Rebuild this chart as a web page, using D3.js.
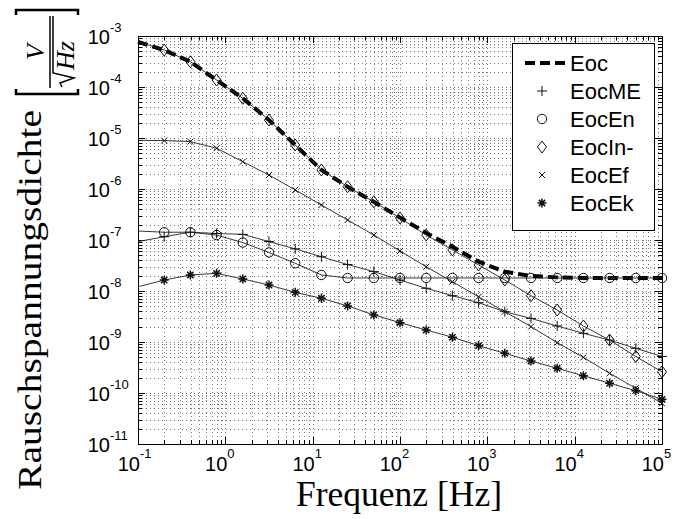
<!DOCTYPE html>
<html><head><meta charset="utf-8">
<script src="https://cdn.jsdelivr.net/npm/d3@7/dist/d3.min.js"></script>
<style>body{margin:0;background:#fff}svg{display:block}</style>
</head><body>
<svg id="c" width="680" height="519"></svg>
<script>
// ---- data ----
const freqs = [0.1, 0.1995, 0.398, 0.794, 1.585, 3.162, 6.31, 12.59, 25.12, 50.12, 100, 199.5, 398, 794, 1585, 3162, 6310, 12589, 25119, 50119, 100000];
const eoc   = [7.7e-4, 5.3e-4, 3.13e-4, 1.37e-4, 6.0e-5, 2.25e-5, 7.3e-6, 2.36e-6, 1.11e-6, 5.6e-7, 2.75e-7, 1.37e-7, 7.4e-8, 3.76e-8, 2.39e-8, 1.97e-8, 1.85e-8, 1.8e-8, 1.8e-8, 1.8e-8, 1.8e-8];
const eocME = [9.3e-8, 1.16e-7, 1.42e-7, 1.34e-7, 1.29e-7, 9.3e-8, 6.7e-8, 4.7e-8, 3.3e-8, 2.4e-8, 1.64e-8, 1.13e-8, 8.1e-9, 5.9e-9, 3.93e-9, 2.9e-9, 2.06e-9, 1.48e-9, 1.09e-9, 7.5e-10, 5.2e-10];
const eocEn = [1.5e-7, 1.42e-7, 1.42e-7, 1.25e-7, 8.9e-8, 5.7e-8, 3.5e-8, 2.06e-8, 1.8e-8, 1.8e-8, 1.8e-8, 1.8e-8, 1.8e-8, 1.8e-8, 1.8e-8, 1.8e-8, 1.8e-8, 1.8e-8, 1.8e-8, 1.8e-8, 1.8e-8];
const eocIn = [7.7e-4, 5.3e-4, 3.13e-4, 1.37e-4, 6.0e-5, 2.25e-5, 7.3e-6, 2.36e-6, 1.11e-6, 5.6e-7, 2.7e-7, 1.25e-7, 6.4e-8, 3.24e-8, 1.64e-8, 8.1e-9, 4.24e-9, 2.06e-9, 1.09e-9, 5.2e-10, 2.6e-10];
const eocEf = [9.0e-6, 8.9e-6, 8.5e-6, 6.3e-6, 3.43e-6, 1.88e-6, 9.6e-7, 4.85e-7, 2.47e-7, 1.25e-7, 6.1e-8, 2.99e-8, 1.52e-8, 7.7e-9, 3.93e-9, 2.0e-9, 9.7e-10, 5.0e-10, 2.43e-10, 1.24e-10, 6.3e-11];
const eocEk = [1.21e-8, 1.64e-8, 2.06e-8, 2.22e-8, 1.72e-8, 1.31e-8, 9.4e-9, 7.2e-9, 5.1e-9, 3.4e-9, 2.39e-9, 1.72e-9, 1.24e-9, 8.5e-10, 6.0e-10, 4.24e-10, 3.05e-10, 2.18e-10, 1.55e-10, 1.11e-10, 7.5e-11];
const seriesNames = ["Eoc", "EocME", "EocEn", "EocIn-", "EocEf", "EocEk"];
const seriesMarkers = ["none", "plus", "circle", "diamond", "cross", "star"];
const xTickExp = [-1, 0, 1, 2, 3, 4, 5];
const yTickExp = [-3, -4, -5, -6, -7, -8, -9, -10, -11];
const xLabel = "Frequenz [Hz]";
const yLabel = "Rauschspannungsdichte";

const seriesValues = [eoc, eocME, eocEn, eocIn, eocEf, eocEk];

// ---- layout ----
const L = 138, R = 662, T = 36, B = 444;
const svg = d3.select("#c");
const x = d3.scaleLog().domain([0.1, 1e5]).range([L, R]);
const y = d3.scaleLog().domain([1e-11, 1e-3]).range([B, T]);

function minors(lo, hi) {
  const out = [];
  for (let e = lo; e < hi; e++) for (let m = 2; m <= 9; m++) out.push(m * Math.pow(10, e));
  return out;
}
const xMaj = xTickExp.map(e => Math.pow(10, e));
const yMaj = yTickExp.map(e => Math.pow(10, e));
const xMin = minors(-1, 5), yMin = minors(-11, -3);

// grid
const grid = svg.append("g").attr("stroke", "#777").attr("stroke-width", 1)
  .attr("stroke-dasharray", "1,3");
xMaj.concat(xMin).forEach(v => {
  const px = Math.round(x(v)) + 0.5;
  grid.append("line").attr("x1", px).attr("x2", px).attr("y1", T).attr("y2", B);
});
yMaj.concat(yMin).forEach(v => {
  const py = Math.round(y(v)) + 0.5;
  grid.append("line").attr("x1", L).attr("x2", R).attr("y1", py).attr("y2", py);
});

// axes ticks (inside, all four sides)
function axisTicks(gen, tr, vals, size) {
  const g = svg.append("g").attr("transform", tr)
    .call(gen.tickValues(vals).tickSize(-size).tickFormat(""));
  g.select(".domain").remove();
  g.selectAll("line").attr("stroke", "#000").attr("shape-rendering", "crispEdges");
}
axisTicks(d3.axisBottom(x), `translate(0,${B})`, xMaj, 7);
axisTicks(d3.axisBottom(x), `translate(0,${B})`, xMin, 4);
axisTicks(d3.axisTop(x), `translate(0,${T})`, xMaj, 7);
axisTicks(d3.axisTop(x), `translate(0,${T})`, xMin, 4);
axisTicks(d3.axisLeft(y), `translate(${L},0)`, yMaj, 7);
axisTicks(d3.axisLeft(y), `translate(${L},0)`, yMin, 4);
axisTicks(d3.axisRight(y), `translate(${R},0)`, yMaj, 7);
axisTicks(d3.axisRight(y), `translate(${R},0)`, yMin, 4);

svg.append("rect").attr("x", L + 0.5).attr("y", T + 0.5).attr("width", R - L).attr("height", B - T)
  .attr("fill", "none").attr("stroke", "#000").attr("stroke-width", 1);

// tick labels
const sans = "Liberation Sans, Arial, sans-serif";
xTickExp.forEach(e => {
  const px = x(Math.pow(10, e));
  svg.append("text").attr("x", px + 2).attr("y", 471).attr("text-anchor", "end")
    .attr("font-family", sans).attr("font-size", 20).text("10");
  svg.append("text").attr("x", px + 2).attr("y", 458).attr("text-anchor", "start")
    .attr("font-family", sans).attr("font-size", 13).text(String(e));
});
yTickExp.forEach(e => {
  const py = y(Math.pow(10, e));
  svg.append("text").attr("x", 110).attr("y", py + 8).attr("text-anchor", "end")
    .attr("font-family", sans).attr("font-size", 20).text("10");
  svg.append("text").attr("x", 110).attr("y", py - 4).attr("text-anchor", "start")
    .attr("font-family", sans).attr("font-size", 13).text(String(e));
});

// series
const plot = svg.append("g");
const line = d3.line().x((d, i) => x(freqs[i])).y(d => y(d));
function markerPath(type, s) {
  switch (type) {
    case "plus": return `M${-s},0H${s}M0,${-s}V${s}`;
    case "cross": { const c = s * 0.6; return `M${-c},${-c}L${c},${c}M${-c},${c}L${c},${-c}`; }
    case "diamond": return `M0,${-s * 1.2}L${s * 0.9},0L0,${s * 1.2}L${-s * 0.9},0Z`;
    case "star": { const c = s * 0.7; return `M${-s},0H${s}M0,${-s}V${s}M${-c},${-c}L${c},${c}M${-c},${c}L${c},${-c}`; }
  }
  return "";
}
function drawMarker(g, type, cx, cy) {
  if (type === "none") return;
  if (type === "circle") {
    g.append("circle").attr("cx", cx).attr("cy", cy).attr("r", 4.7)
      .attr("fill", "none").attr("stroke", "#111").attr("stroke-width", 1);
  } else {
    const s = type === "cross" ? 5 : (type === "star" ? 4.5 : 5);
    g.append("path").attr("transform", `translate(${cx},${cy})`).attr("d", markerPath(type, s))
      .attr("fill", "none").attr("stroke", "#111").attr("stroke-width", type === "star" ? 1.5 : 1);
  }
}
// Eoc thick dashed
plot.append("path").attr("d", line(eoc)).attr("fill", "none").attr("stroke", "#000")
  .attr("stroke-width", 4).attr("stroke-dasharray", "10,5");
for (let s = 1; s < seriesValues.length; s++) {
  const vals = seriesValues[s];
  plot.append("path").attr("d", line(vals)).attr("fill", "none").attr("stroke", "#222").attr("stroke-width", 0.9);
  vals.forEach((v, i) => { if (i > 0) drawMarker(plot, seriesMarkers[s], x(freqs[i]), y(v)); });
}

// legend
const lg = svg.append("g");
lg.append("rect").attr("x", 512.5).attr("y", 43.5).attr("width", 142).attr("height", 187)
  .attr("fill", "#fff").attr("stroke", "#000").attr("stroke-width", 1);
seriesNames.forEach((n, i) => {
  const cy = 63 + i * 28;
  if (i === 0) {
    lg.append("line").attr("x1", 525).attr("x2", 566).attr("y1", cy).attr("y2", cy)
      .attr("stroke", "#000").attr("stroke-width", 4).attr("stroke-dasharray", "10,5");
  } else {
    drawMarker(lg, seriesMarkers[i], 542, cy);
  }
  lg.append("text").attr("x", 570).attr("y", cy + 8).attr("font-family", sans).attr("font-size", 22).text(n);
});

// axis labels
const serif = "Liberation Serif, Times New Roman, serif";
svg.append("text").attr("x", 399).attr("y", 506).attr("text-anchor", "middle")
  .attr("font-family", serif).attr("font-size", 35).attr("textLength", 206)
  .attr("lengthAdjust", "spacingAndGlyphs").text(xLabel);
svg.append("text").attr("transform", "translate(41,490) rotate(-90)")
  .attr("font-family", serif).attr("font-size", 34).attr("textLength", 380)
  .attr("lengthAdjust", "spacingAndGlyphs").text(yLabel);

// unit [V / sqrt(Hz)]
const u = svg.append("g").attr("transform", "translate(50,52) rotate(-90)");
u.append("line").attr("x1", -36).attr("x2", 36).attr("y1", 0).attr("y2", 0).attr("stroke", "#000").attr("stroke-width", 1.5);
u.append("text").attr("x", 0).attr("y", -6).attr("text-anchor", "middle").attr("font-family", serif)
  .attr("font-style", "italic").attr("font-size", 26).text("V");
u.append("path").attr("d", "M-35,12 L-31,10 L-26,24 L-21,3 L36,3").attr("fill", "none").attr("stroke", "#000").attr("stroke-width", 1.5);
u.append("text").attr("x", -18).attr("y", 24).attr("font-family", serif)
  .attr("font-style", "italic").attr("font-size", 26).text("Hz");
u.append("path").attr("d", "M-37,-34 L-42,-34 L-42,28 L-37,28").attr("fill", "none").attr("stroke", "#000").attr("stroke-width", 2.5);
u.append("path").attr("d", "M37,-34 L42,-34 L42,28 L37,28").attr("fill", "none").attr("stroke", "#000").attr("stroke-width", 2.5);
</script>
</body></html>
